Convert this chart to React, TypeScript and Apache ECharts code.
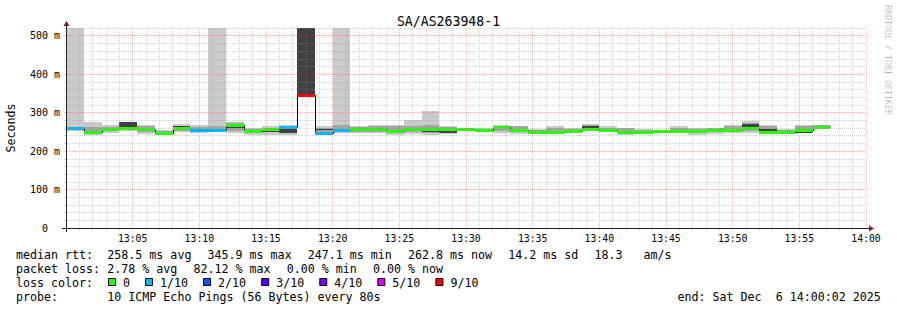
import React, { useEffect, useRef } from 'react';
import * as echarts from 'echarts';

// ---------- data ----------
const TITLE = 'SA/AS263948-1';
const STEP_MIN = 80 / 60; // probe every 80 s, x axis in minutes after 13:00
const X_TICK_LABELS = ['', '13:05', '13:10', '13:15', '13:20', '13:25', '13:30', '13:35', '13:40', '13:45', '13:50', '13:55', '14:00'];
const Y_TICK_LABELS = ['0', '100 m', '200 m', '300 m', '400 m', '500 m'];
const Y_MAX = 520;

// median rtt per step (ms)
const MEDIAN = [260, 250, 258, 261, 257, 248, 259, 255, 256, 267, 253, 257, 263, 345.9, 247.1, 256, 258, 257, 251, 258, 258, 258, 257, 254, 262, 254, 249, 249, 253, 257, 256, 249, 249, 251, 253, 253, 255, 256, 259, 250, 249, 256, 262.8];
// lost pings out of 10 per step
const LOSS = [1, 0, 0, 0, 0, 0, 0, 1, 1, 0, 0, 0, 1, 9, 1, 1, 0, 0, 0, 0, 0, 0, 0, 0, 0, 0, 0, 0, 0, 0, 0, 0, 0, 0, 0, 0, 0, 0, 0, 0, 0, 0, 0];
// smoke: outer band (all pings)
const SMOKE_MIN = [253, 242, 247, 252, 245, 246, 249, 247, 250, 247, 241, 243, 242, 346, 248, 247, 247, 247, 243, 245, 243, 245, 251, 249, 247, 245, 247, 247, 250, 251, 250, 242, 245, 247, 246, 242, 245, 247, 248, 247, 245, 247, 257];
const SMOKE_MAX = [600, 276, 269, 275, 269, 256, 271, 267, 600, 275, 259, 264, 267, 600, 264, 600, 265, 269, 269, 282, 303, 266, 260, 260, 269, 266, 258, 264, 259, 271, 264, 261, 257, 255, 264, 259, 261, 269, 278, 267, 257, 269, 269];
// smoke: middle band
const SMOKE_LO = [254, 246, 251, 254, 250, 247, 253, 251, 252, 252, 246, 249, 246, 346, 250, 250, 250, 250, 246, 250, 248, 247, 253, 250, 252, 249, 248, 249, 251, 254, 252, 245, 247, 248, 249, 246, 249, 250, 252, 250, 247, 250, 259];
const SMOKE_HI = [262, 262, 263, 275, 264, 253, 266, 262, 266, 272, 257, 261, 264, 600, 260, 269, 262, 265, 264, 265, 268, 263, 259, 258, 266, 264, 256, 260, 257, 268, 261, 260, 255, 254, 260, 257, 259, 265, 274, 266, 255, 266, 268];
// smoke: core band
const CORE_LO = [258, 249, 257, 262, 252, 248, 262, 254, 255, 259, 251, 250, 247, 346, 255, 254, 256, 254, 249, 256, 249, 247, 255, 250, 258, 253, 251, 247, 252, 259, 254, 250, 248, 250, 252, 251, 251, 254, 263, 252, 248, 247, 263];
const CORE_HI = [261, 251, 259, 275, 259, 250, 266, 256, 258, 264, 254, 254, 258, 600, 258, 257, 258, 256, 251, 259, 254, 254, 257, 252, 264, 256, 253, 249, 254, 266, 256, 253, 250, 252, 254, 253, 253, 256, 270, 258, 250, 255, 266];

const LOSS_COLORS = ['#26ff00', '#00b8ff', '#0059ff', '#5e00ff', '#7e00ff', '#dd00ff', '#ff0000', '#ff0000', '#ff0000', '#ff0000', '#ff0000'];
const LOSS_LEGEND_LABELS = ['0', '1/10', '2/10', '3/10', '4/10', '5/10', '9/10'];
const LOSS_LEGEND_COUNTS = [0, 1, 2, 3, 4, 5, 9];

const ROW_LABELS = ['median rtt:', 'packet loss:', 'loss color:', 'probe:'];
const MEDIAN_STATS = ['258.5 ms avg', '345.9 ms max', '247.1 ms min', '262.8 ms now', '14.2 ms sd', '18.3   am/s'];
const LOSS_STATS = ['2.78 % avg', '82.12 % max', '0.00 % min', '0.00 % now'];
const PROBE_TEXT = '10 ICMP Echo Pings (56 Bytes) every 80s';
const END_TEXT = 'end: Sat Dec  6 14:00:02 2025';
const WATERMARK = 'RRDTOOL / TOBI OETIKER';

// ---------- style ----------
const MONO = '"DejaVu Sans Mono", monospace';
const CHAR_W = 7.02;
const LEG_FS = 11.65;
const GRID_C = 'rgba(150,150,150,0.42)';
const MGRID_C = 'rgba(235,70,70,0.42)';
const ARROW_C = '#801f1f';
const AXIS_C = '#1f1f1f';
const SHADES = ['#cacaca', '#a4a4a4', '#404040'];

function segs(str: string, x: number, y: number, fs = LEG_FS) {
  const out: any[] = [];
  const re = /\S+(?: \S+)*/g;
  let m: RegExpExecArray | null;
  while ((m = re.exec(str))) {
    out.push({
      type: 'text', x: x + m.index * CHAR_W, y, silent: true,
      style: { text: m[0], fontFamily: MONO, fontSize: fs, fill: '#000', textAlign: 'left', textVerticalAlign: 'middle', align: 'left', verticalAlign: 'middle' },
    });
  }
  return out;
}

function flow(items: string[], x0: number, y: number) {
  let x = x0;
  const out: any[] = [];
  items.forEach((s) => {
    out.push(...segs(s, x, y));
    x += s.length * CHAR_W + 16;
  });
  return out;
}

function buildGraphic() {
  const rowY = [255, 269, 283, 297];
  const g: any[] = [];
  ROW_LABELS.forEach((l, i) => g.push(...segs(l, 16, rowY[i])));
  g.push(...flow(MEDIAN_STATS, 107.3, rowY[0]));
  g.push(...flow(LOSS_STATS, 107.3, rowY[1]));
  let x = 108;
  LOSS_LEGEND_LABELS.forEach((lab, i) => {
    g.push({ type: 'rect', silent: true, shape: { x: x + 0.5, y: 278.5, width: 7, height: 7 }, style: { fill: LOSS_COLORS[LOSS_LEGEND_COUNTS[i]], stroke: '#000', lineWidth: 1 } });
    g.push(...segs(lab, x + 15, rowY[2]));
    x += 15 + lab.length * CHAR_W + 15;
  });
  g.push(...segs(PROBE_TEXT, 107.3, rowY[3]));
  g.push(...segs(END_TEXT, 881 - END_TEXT.length * CHAR_W, rowY[3]));
  // title
  g.push({ type: 'text', x: 448.5, y: 21, silent: true, style: { text: TITLE, fontFamily: MONO, fontSize: 13.2, fill: '#000', textAlign: 'center', textVerticalAlign: 'middle', align: 'center', verticalAlign: 'middle' } });
  // y axis name
  g.push({ type: 'text', x: 11, y: 128, rotation: Math.PI / 2, silent: true, style: { text: 'Seconds', fontFamily: MONO, fontSize: LEG_FS, fill: '#000', textAlign: 'center', textVerticalAlign: 'middle', align: 'center', verticalAlign: 'middle' } });
  // watermark
  g.push({ type: 'text', x: 888, y: 5, rotation: -Math.PI / 2, silent: true, style: { text: WATERMARK, fontFamily: MONO, fontSize: 8.3, fill: 'rgba(0,0,0,0.28)', textAlign: 'left', textVerticalAlign: 'middle', align: 'left', verticalAlign: 'middle' } });
  // axes with arrows
  g.push({ type: 'line', silent: true, z: 10, shape: { x1: 62, y1: 228.5, x2: 869, y2: 228.5 }, style: { stroke: AXIS_C, lineWidth: 1 } });
  g.push({ type: 'line', silent: true, z: 10, shape: { x1: 66.5, y1: 232, x2: 66.5, y2: 26 }, style: { stroke: AXIS_C, lineWidth: 1 } });
  g.push({ type: 'polygon', silent: true, z: 10, shape: { points: [[869, 225.5], [874, 228.5], [869, 231.5]] }, style: { fill: ARROW_C } });
  g.push({ type: 'polygon', silent: true, z: 10, shape: { points: [[63.5, 26], [66.5, 21], [69.5, 26]] }, style: { fill: ARROW_C } });
  return g;
}

export default function App() {
  const ref = useRef<HTMLDivElement>(null);
  useEffect(() => {
    if (!ref.current) return;
    const chart = echarts.init(ref.current, null, { renderer: 'svg' });
    const rows = MEDIAN.map((m, i) => [
      i * STEP_MIN, (i + 1) * STEP_MIN,
      SMOKE_MIN[i], SMOKE_MAX[i], SMOKE_LO[i], SMOKE_HI[i], CORE_LO[i], CORE_HI[i],
      m, LOSS[i], i > 0 ? MEDIAN[i - 1] : m,
    ]);
    const renderItem = (_p: any, api: any) => {
      const x0 = api.value(0);
      const x1 = api.value(1);
      const band = (lo: number, hi: number, fill: string) => {
        const a = api.coord([x0, hi]);
        const b = api.coord([x1, lo]);
        const xa = Math.round(a[0]);
        const ya = Math.round(a[1]);
        return { type: 'rect', shape: { x: xa, y: ya, width: Math.round(b[0]) - xa, height: Math.round(b[1]) - ya }, style: { fill } };
      };
      const med = api.value(8);
      const loss = api.value(9);
      const prev = api.value(10);
      const pm = api.coord([x0, med]);
      const pp = api.coord([x0, prev]);
      const pe = api.coord([x1, med]);
      const xs = Math.round(pm[0]) + 0.5;
      const xe = Math.round(pe[0]) + 0.5;
      const ym = Math.round(pm[1]) + 0.5;
      const yp = Math.round(pp[1]) + 0.5;
      return {
        type: 'group',
        children: [
          band(api.value(2), api.value(3), SHADES[0]),
          band(api.value(4), api.value(5), SHADES[1]),
          band(api.value(6), api.value(7), SHADES[2]),
          { type: 'polyline', shape: { points: [[xs, yp], [xs, ym], [xe, ym]] }, style: { stroke: '#000', lineWidth: 1, fill: null } },
          { type: 'rect', shape: { x: Math.round(pm[0]), y: Math.round(pm[1]) - 1, width: Math.round(pe[0]) - Math.round(pm[0]), height: 3 }, style: { fill: LOSS_COLORS[loss] } },
        ],
      };
    };
    const lineColors = [MGRID_C, GRID_C, GRID_C, GRID_C, GRID_C];
    chart.setOption({
      animation: false,
      backgroundColor: '#ffffff',
      grid: { left: 66, top: 28, width: 800, height: 200, containLabel: false },
      xAxis: {
        type: 'value', min: 0, max: 60, interval: 1, z: 5,
        axisLine: { show: false },
        axisTick: { show: true, length: 2, lineStyle: { color: GRID_C } },
        splitLine: { show: true, lineStyle: { color: lineColors, type: [1, 1], width: 1 } },
        axisLabel: {
          margin: 10.5, fontFamily: MONO, fontSize: 9.8, color: '#000', verticalAlign: 'middle',
          showMinLabel: true, showMaxLabel: true,
          formatter: (v: number) => (Math.abs(v % 5) < 1e-6 ? X_TICK_LABELS[Math.round(v / 5)] : ''),
        },
      },
      yAxis: {
        type: 'value', min: 0, max: Y_MAX, interval: 20, z: 5,
        axisLine: { show: false },
        axisTick: { show: true, length: 2, lineStyle: { color: GRID_C } },
        splitLine: { show: true, lineStyle: { color: lineColors, type: [1, 1], width: 1 } },
        axisLabel: {
          margin: 6, fontFamily: MONO, fontSize: 10, color: '#000',
          formatter: (v: number) => {
            if (Math.abs(v % 100) > 1e-6) return '';
            const k = Math.round(v / 100);
            return k === 0 ? '{z|' + Y_TICK_LABELS[0] + '}' : Y_TICK_LABELS[k];
          },
          rich: { z: { fontFamily: MONO, fontSize: 10, color: '#000', padding: [0, 12, 0, 0] } },
        },
      },
      series: [{ type: 'custom', clip: true, renderItem, data: rows, encode: { x: [0, 1], y: [2, 3] }, z: 2 }],
      graphic: buildGraphic(),
    });
    return () => chart.dispose();
  }, []);
  return <div ref={ref} style={{ position: 'absolute', left: 0, top: 0, width: 897, height: 310, background: '#fff' }} />;
}
